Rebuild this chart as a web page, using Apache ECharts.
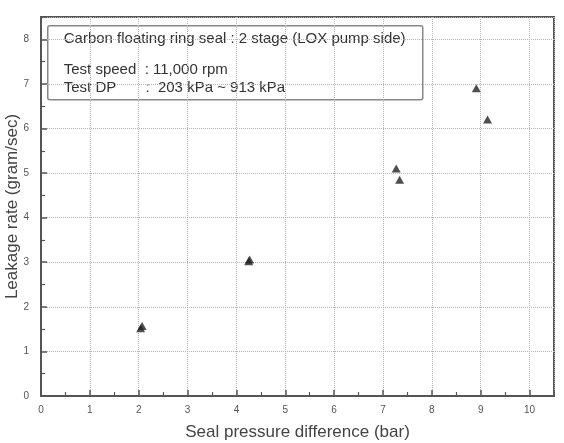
<!DOCTYPE html>
<html>
<head>
<meta charset="utf-8">
<script src="https://cdn.jsdelivr.net/npm/echarts@6/dist/echarts.min.js"></script>
<style>
  html, body { margin: 0; padding: 0; background: #fff; }
  #chart { width: 564px; height: 443px; }
</style>
</head>
<body>
<div id="chart"></div>
<script>
// 数据：密封压差 (bar) 与 泄漏率 (gram/sec)
var pressureDiff = [2.04, 2.07, 4.25, 4.27, 7.27, 7.34, 8.91, 9.14];
var leakRate = [1.52, 1.57, 3.02, 3.06, 5.10, 4.85, 6.90, 6.20];
var xTicks = [0, 1, 2, 3, 4, 5, 6, 7, 8, 9, 10];
var yTicks = [0, 1, 2, 3, 4, 5, 6, 7, 8];
var noteLines = [
  'Carbon floating ring seal : 2 stage (LOX pump side)',
  'Test speed  : 11,000 rpm',
  'Test DP       :  203 kPa ~ 913 kPa'
];

var font = 'Liberation Sans, Arial, sans-serif';
var axisColor = '#555';

var points = pressureDiff.map(function (x, i) { return [x, leakRate[i]]; });

var chart = echarts.init(document.getElementById('chart'));

var axisCommon = function (name, gap, margin, ticks) {
  return {
    type: 'value',
    name: name,
    nameLocation: 'middle',
    nameGap: gap,
    nameMoveOverlap: false,
    nameTextStyle: { fontFamily: font, fontSize: 17, color: '#444' },
    interval: 1,
    axisLine: { show: true, lineStyle: { color: axisColor, width: 2 } },
    axisTick: { show: true, inside: true, length: 6, lineStyle: { color: axisColor, width: 1.5 } },
    minorTick: { show: true, splitNumber: 2, length: 4, lineStyle: { color: axisColor, width: 1.2 } },
    axisLabel: {
      fontFamily: font, fontSize: 10, color: '#555', margin: margin,
      formatter: function (v) { return ticks.indexOf(v) >= 0 ? String(v) : ''; }
    },
    splitLine: { show: true, lineStyle: { color: '#b5b5b5', type: 'dotted', width: 1 } }
  };
};

var xAxis = axisCommon('Seal pressure difference (bar)', 28, 9, xTicks);
xAxis.min = 0; xAxis.max = 10.5;
var yAxis = axisCommon('Leakage rate (gram/sec)', 20, 12, yTicks);
yAxis.min = 0; yAxis.max = 8.5;

var option = {
  animation: false,
  backgroundColor: '#fff',
  grid: {
    left: 41, right: 10, top: 17, bottom: 47,
    containLabel: false,
    outerBoundsMode: 'none',
    show: true, borderColor: axisColor, borderWidth: 2, backgroundColor: 'transparent'
  },
  xAxis: xAxis,
  yAxis: yAxis,
  series: [{
    type: 'scatter',
    data: points,
    symbol: 'triangle',
    symbolSize: [9, 8],
    itemStyle: { color: '#222' },
    z: 5
  }],
  graphic: [{
    type: 'group',
    left: 47,
    top: 25,
    z: 10,
    children: [
      {
        type: 'rect',
        shape: { x: 0, y: 0, width: 375, height: 74, r: 2 },
        style: { fill: '#fff', stroke: '#888', lineWidth: 1.5 }
      },
      {
        type: 'text', x: 16, y: 13,
        style: { text: noteLines[0], font: '15px ' + font, fill: '#333', textVerticalAlign: 'middle' }
      },
      {
        type: 'text', x: 16, y: 44,
        style: { text: noteLines[1], font: '15px ' + font, fill: '#333', textVerticalAlign: 'middle' }
      },
      {
        type: 'text', x: 16, y: 62,
        style: { text: noteLines[2], font: '15px ' + font, fill: '#333', textVerticalAlign: 'middle' }
      }
    ]
  }]
};

chart.setOption(option);
</script>
</body>
</html>
